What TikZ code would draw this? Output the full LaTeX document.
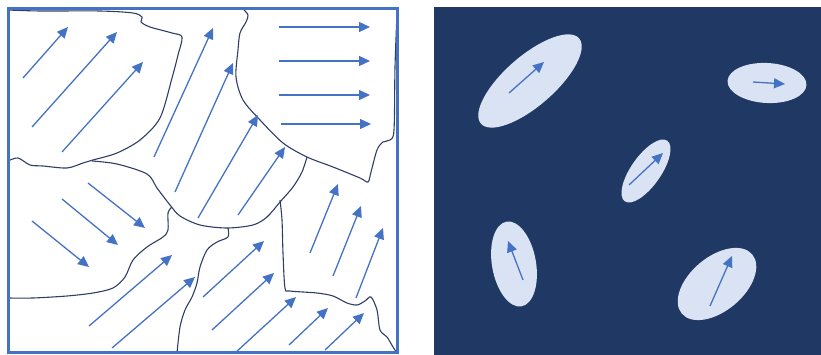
\documentclass[tikz,border=0pt]{standalone}
\usetikzlibrary{arrows.meta}

\definecolor{spinblue}{RGB}{68,114,196}
\definecolor{grainnavy}{RGB}{47,62,102}
\definecolor{matrixnavy}{RGB}{32,56,100}
\definecolor{flakefill}{RGB}{218,227,243}

\begin{document}
\begin{tikzpicture}[x=1pt, y=-1pt,
    frameline/.style={draw=spinblue, line width=3pt},
    grainline/.style={draw=grainnavy, line width=1.1pt, line join=round},
    spin/.style={draw=spinblue, line width=1.3pt, -{Triangle[length=11pt,width=10pt]}},
    flake/.style={fill=flakefill}]
    \useasboundingbox (0,0) rectangle (821,355);

    % polycrystal: grain boundaries
    \draw[grainline] plot[smooth, tension=.5] coordinates {(8,10) (40,11) (100,11) (133,13) (142,17) (141,22) (150,27) (172,33) (182,37) (178,55) (172,78) (160,118) (140,140) (117,153) (93,160) (83,163) (67,168) (43,166) (30,165) (18,158) (8,161)};
    \draw[grainline] plot[smooth, tension=.5] coordinates {(92,161) (117,164) (147,174) (157,188) (170,205) (180,216) (200,225) (227,228) (253,225) (267,217) (280,202) (293,187) (302,172) (307,157)};
    \draw[grainline] plot[smooth, tension=.5] coordinates {(243,9) (248,15) (246,22) (240,33) (238,50) (236,77) (243,100) (260,120) (283,143) (307,157) (333,167) (360,178) (368,182) (371,172) (377,150) (383,142) (390,140) (394,130) (395,67) (397,13)};
    \draw[grainline] plot[smooth, tension=.5] coordinates {(280,200) (282,220) (283,253) (285,288) (290,291) (317,293) (333,296) (347,303) (357,305) (365,301) (371,297) (377,310) (380,330) (387,337) (393,347) (397,353)};
    \draw[grainline] plot[smooth, tension=.5] coordinates {(8,298) (33,298) (67,296) (93,293) (113,288) (125,277) (133,260) (147,247) (163,237) (168,230) (168,213) (172,207)};
    \draw[grainline] plot[smooth, tension=.5] coordinates {(228,228) (228,237) (217,242) (207,250) (200,267) (197,283) (192,297) (185,310) (180,327) (177,353)};

    % magnetisation of each grain
    \foreach \xa/\ya/\xb/\yb in {23/78/68/27, 32/127/117/32, 62/152/143/62,
        154/157/213/28, 175/192/233/63, 198/218/258/115, 238/215/285/147,
        279/27/370/27, 279/61/370/61, 279/95/370/95, 281/124/371/124,
        88/183/145/228, 62/199/118/245, 32/221/89/267,
        89/326/172/255, 112/348/195/277,
        203/297/264/241, 212/330/274/273, 235/353/296/297,
        310/253/338/184, 333/276/361/206, 356/298/383/228,
        289/345/328/308, 325/350/364/313}
        \draw[spin] (\xa,\ya) -- (\xb,\yb);

    \draw[frameline] (8.5,8.5) rectangle (397.5,352.5);

    % isolated particles in a matrix
    \fill[matrixnavy] (434,7) rectangle (821,355);
    \fill[flake, rotate around={41:(530,81)}] (530,81) ellipse (65 and 25);
    \fill[flake, rotate around={-3:(767,83)}] (767,83) ellipse (39.5 and 20);
    \fill[flake, rotate around={55:(646,171)}] (646,171) ellipse (37 and 15);
    \fill[flake, rotate around={100:(514,264)}] (514,264) ellipse (43 and 22);
    \fill[flake, rotate around={40:(717,284)}] (717,284) ellipse (46 and 27);
    \draw[spin] (509,93) -- (544,62);
    \draw[spin] (753,82) -- (785,84);
    \draw[spin] (629,185) -- (663,153);
    \draw[spin] (523,280) -- (508,241);
    \draw[spin] (710,306) -- (732,256);
\end{tikzpicture}
\end{document}
